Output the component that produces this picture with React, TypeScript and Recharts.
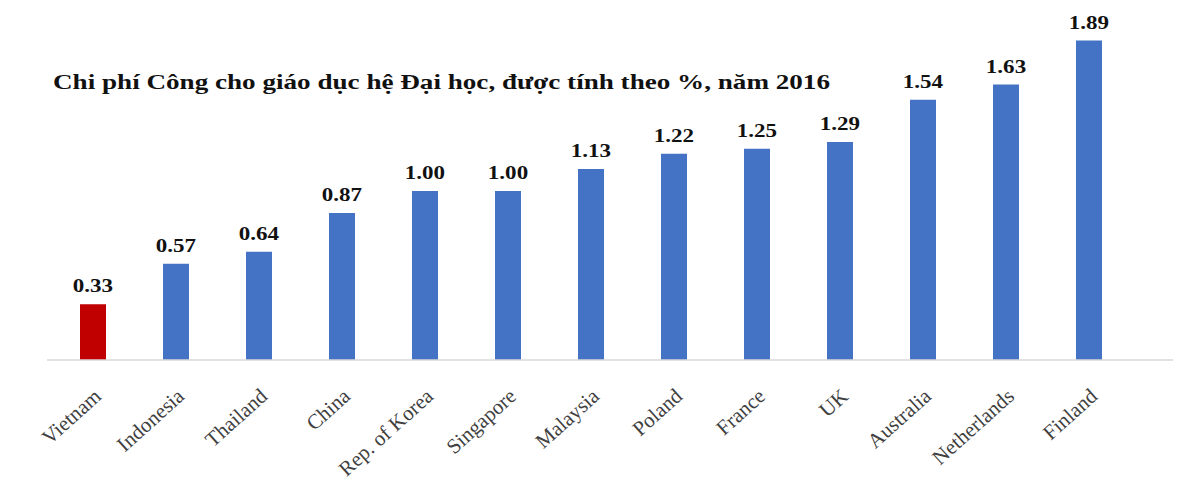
import React from 'react';
import { BarChart, Bar, XAxis, YAxis, Cell, LabelList } from 'recharts';

const countries = [
  'Vietnam',
  'Indonesia',
  'Thailand',
  'China',
  'Rep. of Korea',
  'Singapore',
  'Malaysia',
  'Poland',
  'France',
  'UK',
  'Australia',
  'Netherlands',
  'Finland',
];
const spending = [0.33, 0.57, 0.64, 0.87, 1.0, 1.0, 1.13, 1.22, 1.25, 1.29, 1.54, 1.63, 1.89];
const highlighted = 'Vietnam';

const title = 'Chi phí Công cho giáo dục hệ Đại học, được tính theo %, năm 2016';

const data = countries.map((name, i) => ({ name, value: spending[i] }));

const WIDTH = 1182;
const HEIGHT = 493;
const BLUE = '#4472C4';
const RED = '#C00000';
const SERIF = '"Liberation Serif", "Times New Roman", serif';

function CountryTick(props: any) {
  const { x, y, payload } = props;
  const ax = x + 10;
  const ay = y + 38;
  return (
    <text
      x={ax}
      y={ay}
      textAnchor="end"
      fontFamily={SERIF}
      fontSize={21}
      fill="#404040"
      transform={`rotate(-42, ${ax}, ${ay})`}
    >
      {payload.value}
    </text>
  );
}

function ValueLabel(props: any) {
  const { x, y, width, value } = props;
  const cx = x + width / 2;
  const ly = y - 12;
  return (
    <text
      x={cx}
      y={ly}
      textAnchor="middle"
      fontFamily={SERIF}
      fontWeight="bold"
      fontSize={18}
      fill="#111"
      transform={`translate(${cx} ${ly}) scale(1.28 1) translate(${-cx} ${-ly})`}
    >
      {Number(value).toFixed(2)}
    </text>
  );
}

export default function App() {
  return (
    <div style={{ position: 'absolute', left: 0, top: 0, width: WIDTH, height: HEIGHT, background: '#fff' }}>
      <BarChart
        width={WIDTH}
        height={HEIGHT}
        data={data}
        margin={{ top: 22, right: 9, bottom: 13, left: 47 }}
        barCategoryGap={0}
      >
        <XAxis
          dataKey="name"
          interval={0}
          height={120}
          tickLine={false}
          tickSize={0}
          tickMargin={0}
          padding={{ left: 4, right: 43 }}
          axisLine={{ stroke: '#d9d9d9', strokeWidth: 1.5 }}
          tick={<CountryTick />}
        />
        <YAxis hide domain={[0, 2]} />
        <Bar dataKey="value" barSize={26} isAnimationActive={false}>
          {data.map((d) => (
            <Cell key={d.name} fill={d.name === highlighted ? RED : BLUE} />
          ))}
          <LabelList dataKey="value" content={<ValueLabel />} />
        </Bar>
      </BarChart>
      {/* chart heading, stretched to span the left part of the plot */}
      <svg width={WIDTH} height={HEIGHT} style={{ position: 'absolute', left: 0, top: 0, pointerEvents: 'none' }}>
        <text
          x={53}
          y={89}
          fontFamily={SERIF}
          fontWeight="bold"
          fontSize={22}
          fill="#111"
          textLength={777}
          lengthAdjust="spacingAndGlyphs"
        >
          {title}
        </text>
      </svg>
    </div>
  );
}
